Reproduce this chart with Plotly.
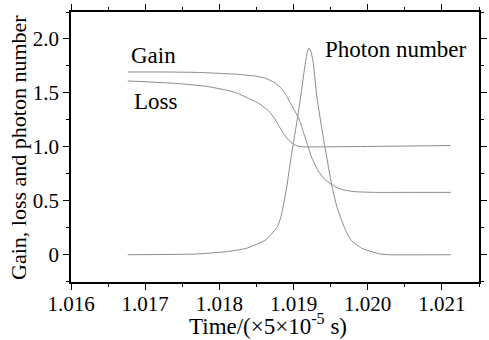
import plotly.graph_objects as go

# ---- data ----
gain_t = [1.016765, 1.017240, 1.017702, 1.018230, 1.018493, 1.018625, 1.018757,
          1.018846, 1.018902, 1.018978, 1.019047, 1.019087, 1.019140, 1.019197,
          1.019241, 1.019329, 1.019417, 1.019505, 1.019588, 1.019681, 1.019813,
          1.020077, 1.020604, 1.021119]
gain_v = [1.694, 1.694, 1.690, 1.673, 1.655, 1.635, 1.590,
          1.535, 1.475, 1.38, 1.295, 1.235, 1.12, 1.00,
          0.907, 0.78, 0.70, 0.655, 0.62, 0.60, 0.585,
          0.578, 0.578, 0.578]

loss_t = [1.016765, 1.017438, 1.017834, 1.018098, 1.018230, 1.018361, 1.018493,
          1.018537, 1.018669, 1.018757, 1.018801, 1.018863, 1.018933, 1.018999,
          1.019061, 1.019153, 1.019417, 1.020604, 1.021119]
loss_v = [1.611, 1.587, 1.56, 1.525, 1.50, 1.46, 1.417,
          1.40, 1.33, 1.25, 1.195, 1.125, 1.062, 1.025,
          1.006, 1.0, 1.0, 1.008, 1.012]

photon_t = [1.016765, 1.017662, 1.018098, 1.018361, 1.018625, 1.018784, 1.018830,
            1.018902, 1.018955, 1.019001, 1.019054, 1.019107, 1.019153, 1.019186,
            1.019210, 1.019236, 1.019265, 1.019311, 1.019364, 1.019423, 1.019522,
            1.019582, 1.019681, 1.019773, 1.019918, 1.020142, 1.020274, 1.021119]
photon_v = [0.0, 0.006, 0.028, 0.059, 0.136, 0.26, 0.352,
            0.6, 0.85, 1.05, 1.27, 1.52, 1.75, 1.88,
            1.915, 1.88, 1.78, 1.48, 1.24, 1.0, 0.62,
            0.45, 0.26, 0.136, 0.06, 0.01, 0.0, 0.0]

x_tick_vals = [1.016, 1.017, 1.018, 1.019, 1.020, 1.021]
x_tick_text = ["1.016", "1.017", "1.018", "1.019", "1.020", "1.021"]
y_tick_vals = [0, 0.5, 1.0, 1.5, 2.0]
y_tick_text = ["0", "0.5", "1.0", "1.5", "2.0"]

labels = ["Gain", "Loss", "Photon number"]
label_x = [1.016778, 1.016818, 1.019391]
label_y = [1.849, 1.423, 1.90]

x_title = "Time/(×5×10<sup>-5</sup> s)"
y_title = "Gain, loss and photon number"

FONT = "Liberation Serif"
LINE = "#8a8a8a"

fig = go.Figure()
for t, v, name in [(gain_t, gain_v, "Gain"), (loss_t, loss_v, "Loss"),
                   (photon_t, photon_v, "Photon number")]:
    fig.add_trace(go.Scatter(x=t, y=v, mode="lines", name=name,
                             line=dict(color=LINE, width=1, shape="spline", smoothing=0.45),
                             showlegend=False))

for txt, lx, ly in zip(labels, label_x, label_y):
    fig.add_annotation(x=lx, y=ly, xref="x", yref="y", text=txt, showarrow=False,
                       xanchor="left", yanchor="middle",
                       font=dict(family=FONT, size=23, color="black"))

# axis titles placed as annotations to match their positions in the reference
fig.add_annotation(x=0.482, y=-0.158, xref="paper", yref="paper",
                   text=x_title, showarrow=False,
                   xanchor="center", yanchor="middle",
                   font=dict(family=FONT, size=23, color="black"))
fig.add_annotation(x=-0.130, y=0.5, xref="paper", yref="paper",
                   text=y_title, showarrow=False, textangle=-90,
                   xanchor="center", yanchor="middle",
                   font=dict(family=FONT, size=22, color="black"))

axis_common = dict(showline=True, linecolor="black", linewidth=1.5, mirror="ticks",
                   ticks="outside", ticklen=6, tickwidth=1.2, tickcolor="black",
                   showgrid=False, zeroline=False,
                   tickfont=dict(family=FONT, size=21, color="black"))

fig.update_xaxes(range=[1.016, 1.0215], tickvals=x_tick_vals, ticktext=x_tick_text,
                 ticklabelstandoff=-4,
                 minor=dict(dtick=0.0005, tick0=1.016, ticks="outside", ticklen=3,
                            tickwidth=1.2, tickcolor="black"),
                 **axis_common)
fig.update_yaxes(range=[-0.253, 2.25], tickvals=y_tick_vals, ticktext=y_tick_text,
                 minor=dict(dtick=0.25, tick0=0, ticks="outside", ticklen=3,
                            tickwidth=1.2, tickcolor="black"),
                 **axis_common)

fig.update_layout(width=489, height=340, margin=dict(l=71, r=2, t=12, b=58),
                  paper_bgcolor="white", plot_bgcolor="white")

fig.write_html("out.html")
